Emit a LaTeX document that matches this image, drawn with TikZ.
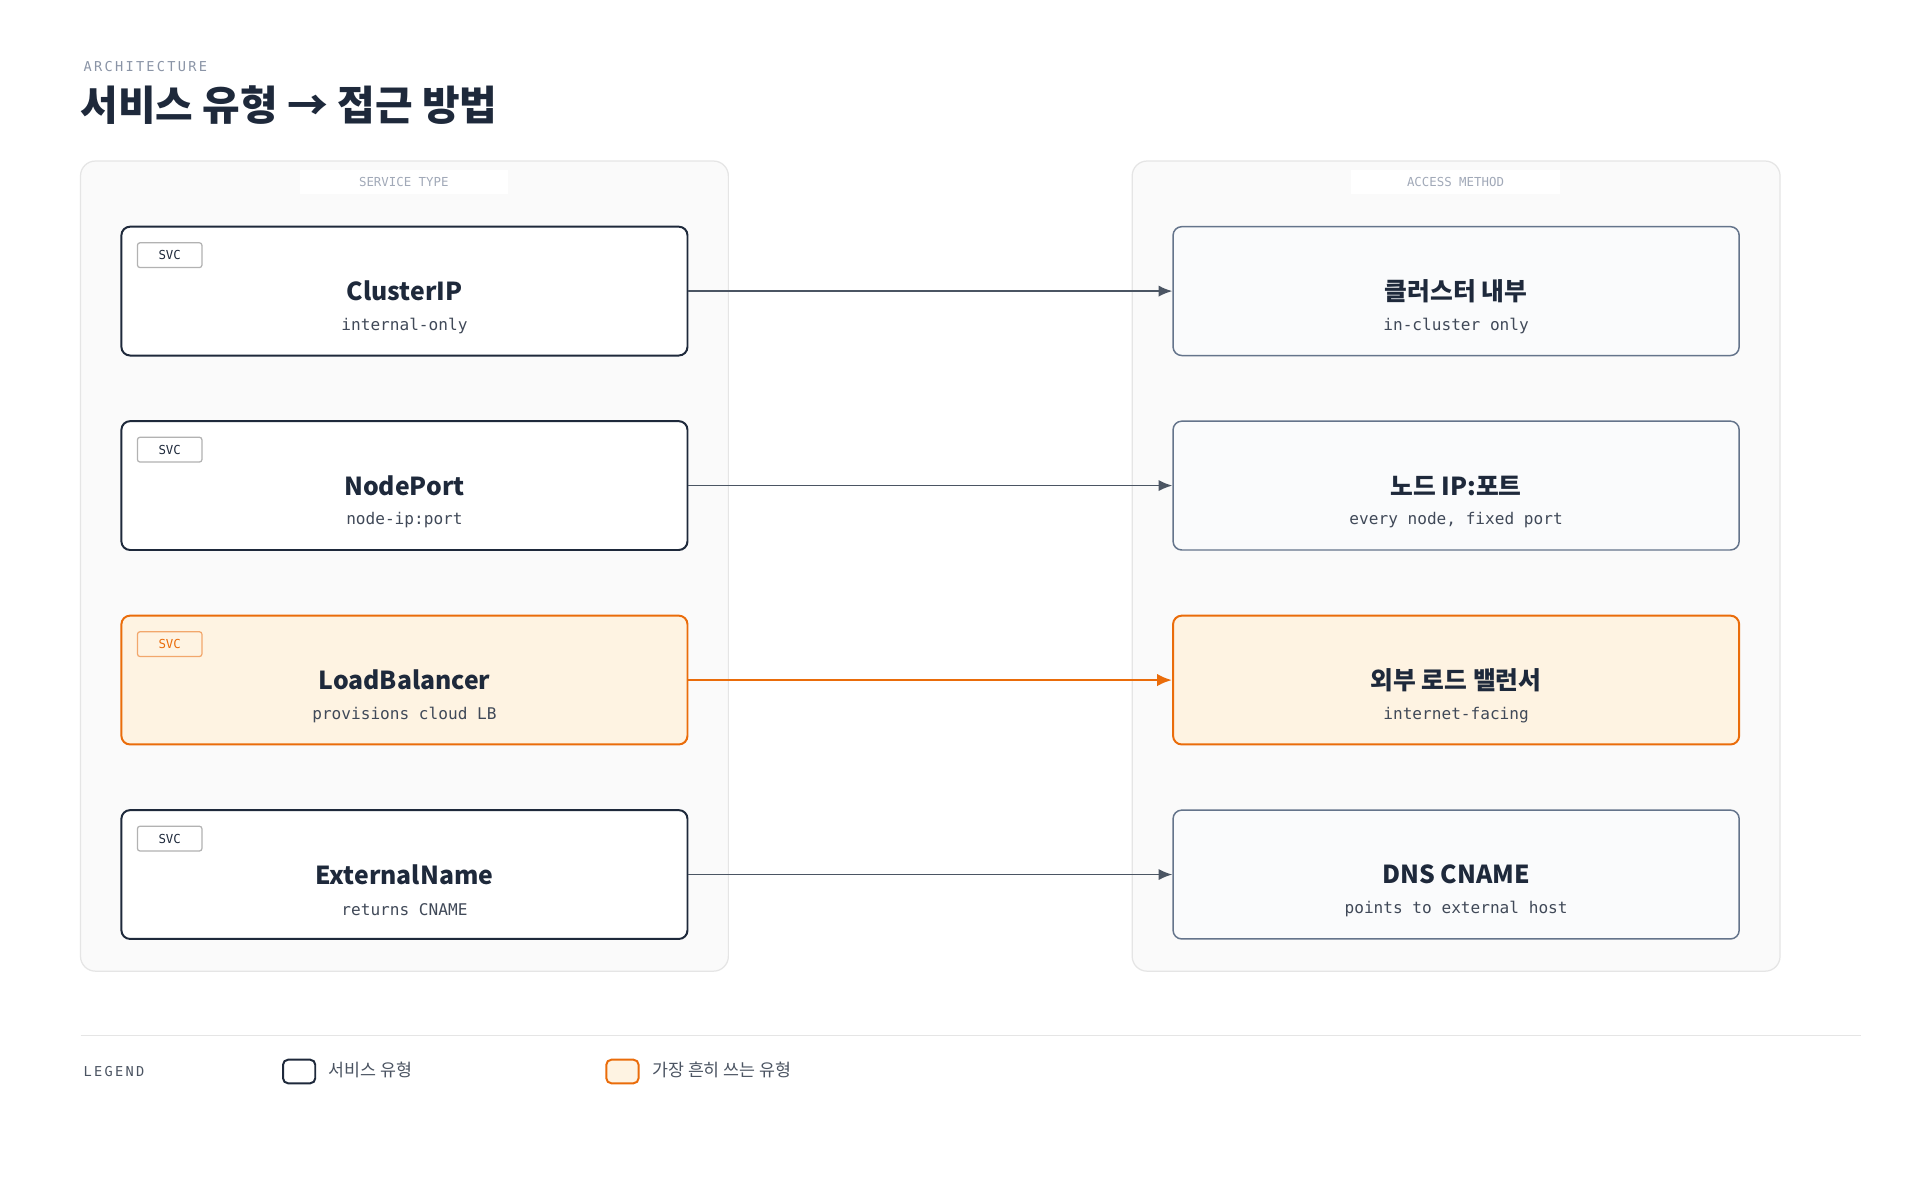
\documentclass[tikz,border=0pt]{standalone}
\usepackage{fontspec}
\setmainfont{Noto Sans CJK KR}
\setmonofont{DejaVu Sans Mono}
\newfontfamily\kr{Noto Sans CJK KR}
\usetikzlibrary{arrows.meta}
\definecolor{ink}{HTML}{1E293B}
\definecolor{grayline}{HTML}{64748B}
\definecolor{arrowgray}{HTML}{4B5563}
\definecolor{orng}{HTML}{EA6C0A}
\definecolor{orfill}{HTML}{FEF3E2}
\definecolor{panelfill}{HTML}{FAFAFA}
\definecolor{panelline}{HTML}{E5E5E5}
\definecolor{muted}{HTML}{8A94A6}
\begin{document}
\begin{tikzpicture}[x=1pt,y=-1pt,
  panel/.style={draw=panelline,line width=1pt,fill=panelfill,rounded corners=12pt},
  plabel/.style={fill=white,inner sep=0pt,minimum width=168pt,minimum height=19pt,font=\ttfamily\fontsize{10}{10}\selectfont,text=muted!80},
  svcbox/.style={draw=ink,line width=1.6pt,fill=white,rounded corners=7pt,minimum width=457pt,minimum height=104pt,inner sep=0pt},
  accbox/.style={draw=grayline,line width=1.2pt,fill=white!97!grayline,rounded corners=7pt,minimum width=457pt,minimum height=104pt,inner sep=0pt},
  hot/.style={draw=orng,fill=orfill},
  tag/.style={draw=gray!60,line width=1pt,rounded corners=2pt,minimum width=52pt,minimum height=20pt,inner sep=0pt,font=\ttfamily\fontsize{10}{10}\selectfont,text=ink},
  ttl/.style={font=\bfseries\fontsize{20}{20}\selectfont,text=ink},
  sub/.style={font=\ttfamily\fontsize{13}{13}\selectfont,text=ink!85},
  conn/.style={draw=arrowgray,line width=1.3pt,-{Latex[length=11pt,width=9pt]}},
  hotconn/.style={draw=orng,line width=2pt,-{Latex[length=12pt,width=10pt]}}
]
\useasboundingbox (0,0) rectangle (1550,969);
\fill[white] (0,0) rectangle (1550,969);
\node[anchor=west,font=\ttfamily\fontsize{11}{11}\selectfont,text=muted] (arch) at (64,54) {A\,R\,C\,H\,I\,T\,E\,C\,T\,U\,R\,E};
\node[anchor=west,font=\bfseries\fontsize{33}{33}\selectfont,text=ink,inner sep=0pt] (title) at (65,85) {서비스 유형 → 접근 방법};

\node[panel,minimum width=523pt,minimum height=654pt] (lp) at (326.5,457) {};
\node[panel,minimum width=523pt,minimum height=654pt] (rp) at (1175.5,457) {};
\node[plabel] (lpl) at (326,147) {SERVICE TYPE};
\node[plabel] (rpl) at (1175,147) {ACCESS METHOD};

\foreach \n/\y/\t/\s/\h in {a/235/ClusterIP/internal-only/0,b/392/NodePort/node-ip:port/0,c/549/LoadBalancer/provisions cloud LB/1,d/706/ExternalName/returns CNAME/0}{
  \ifnum\h=1
    \node[svcbox,hot] (s\n) at (326.5,\y) {};
    \node[tag,draw=orng!60,text=orng] (t\n) at (137,\y-29) {SVC};
  \else
    \node[svcbox] (s\n) at (326.5,\y) {};
    \node[tag] (t\n) at (137,\y-29) {SVC};
  \fi
  \node[ttl] (st\n) at (326.5,\y) {\t};
  \node[sub] (ss\n) at (326.5,\y+28) {\s};
}
\foreach \n/\y/\t/\s/\h in {a/235/클러스터 내부/in-cluster only/0,b/392/노드 IP:포트/{every node, fixed port}/0,c/549/외부 로드 밸런서/internet-facing/1,d/706/DNS CNAME/points to external host/0}{
  \ifnum\h=1
    \node[accbox,hot,line width=1.6pt] (r\n) at (1175.5,\y) {};
  \else
    \node[accbox] (r\n) at (1175.5,\y) {};
  \fi
  \node[ttl] (rt\n) at (1175.5,\y) {\t};
  \node[sub] (rs\n) at (1175.5,\y+28) {\s};
}
\draw[conn] (sa.east) -- (ra.west);
\draw[conn] (sb.east) -- (rb.west);
\draw[hotconn] (sc.east) -- (rc.west);
\draw[conn] (sd.east) -- (rd.west);

\coordinate (l1) at (65,836); \coordinate (l2) at (1502,836);
\draw[panelline,line width=1.2pt] (l1) -- (l2);
\node[anchor=west,font=\ttfamily\fontsize{11}{11}\selectfont,text=ink!80] (leg) at (64,865) {L\,E\,G\,E\,N\,D};
\node[draw=ink,line width=1.6pt,fill=white,rounded corners=4pt,minimum width=26pt,minimum height=19pt,inner sep=0pt] (k1) at (241.5,865) {};
\node[anchor=west,font=\fontsize{14}{14}\selectfont,text=ink!80] (k1t) at (262,864) {서비스 유형};
\node[draw=orng,line width=1.6pt,fill=orfill,rounded corners=4pt,minimum width=26pt,minimum height=19pt,inner sep=0pt] (k2) at (502.5,865) {};
\node[anchor=west,font=\fontsize{14}{14}\selectfont,text=ink!80] (k2t) at (523,864) {가장 흔히 쓰는 유형};
\end{tikzpicture}
\end{document}
